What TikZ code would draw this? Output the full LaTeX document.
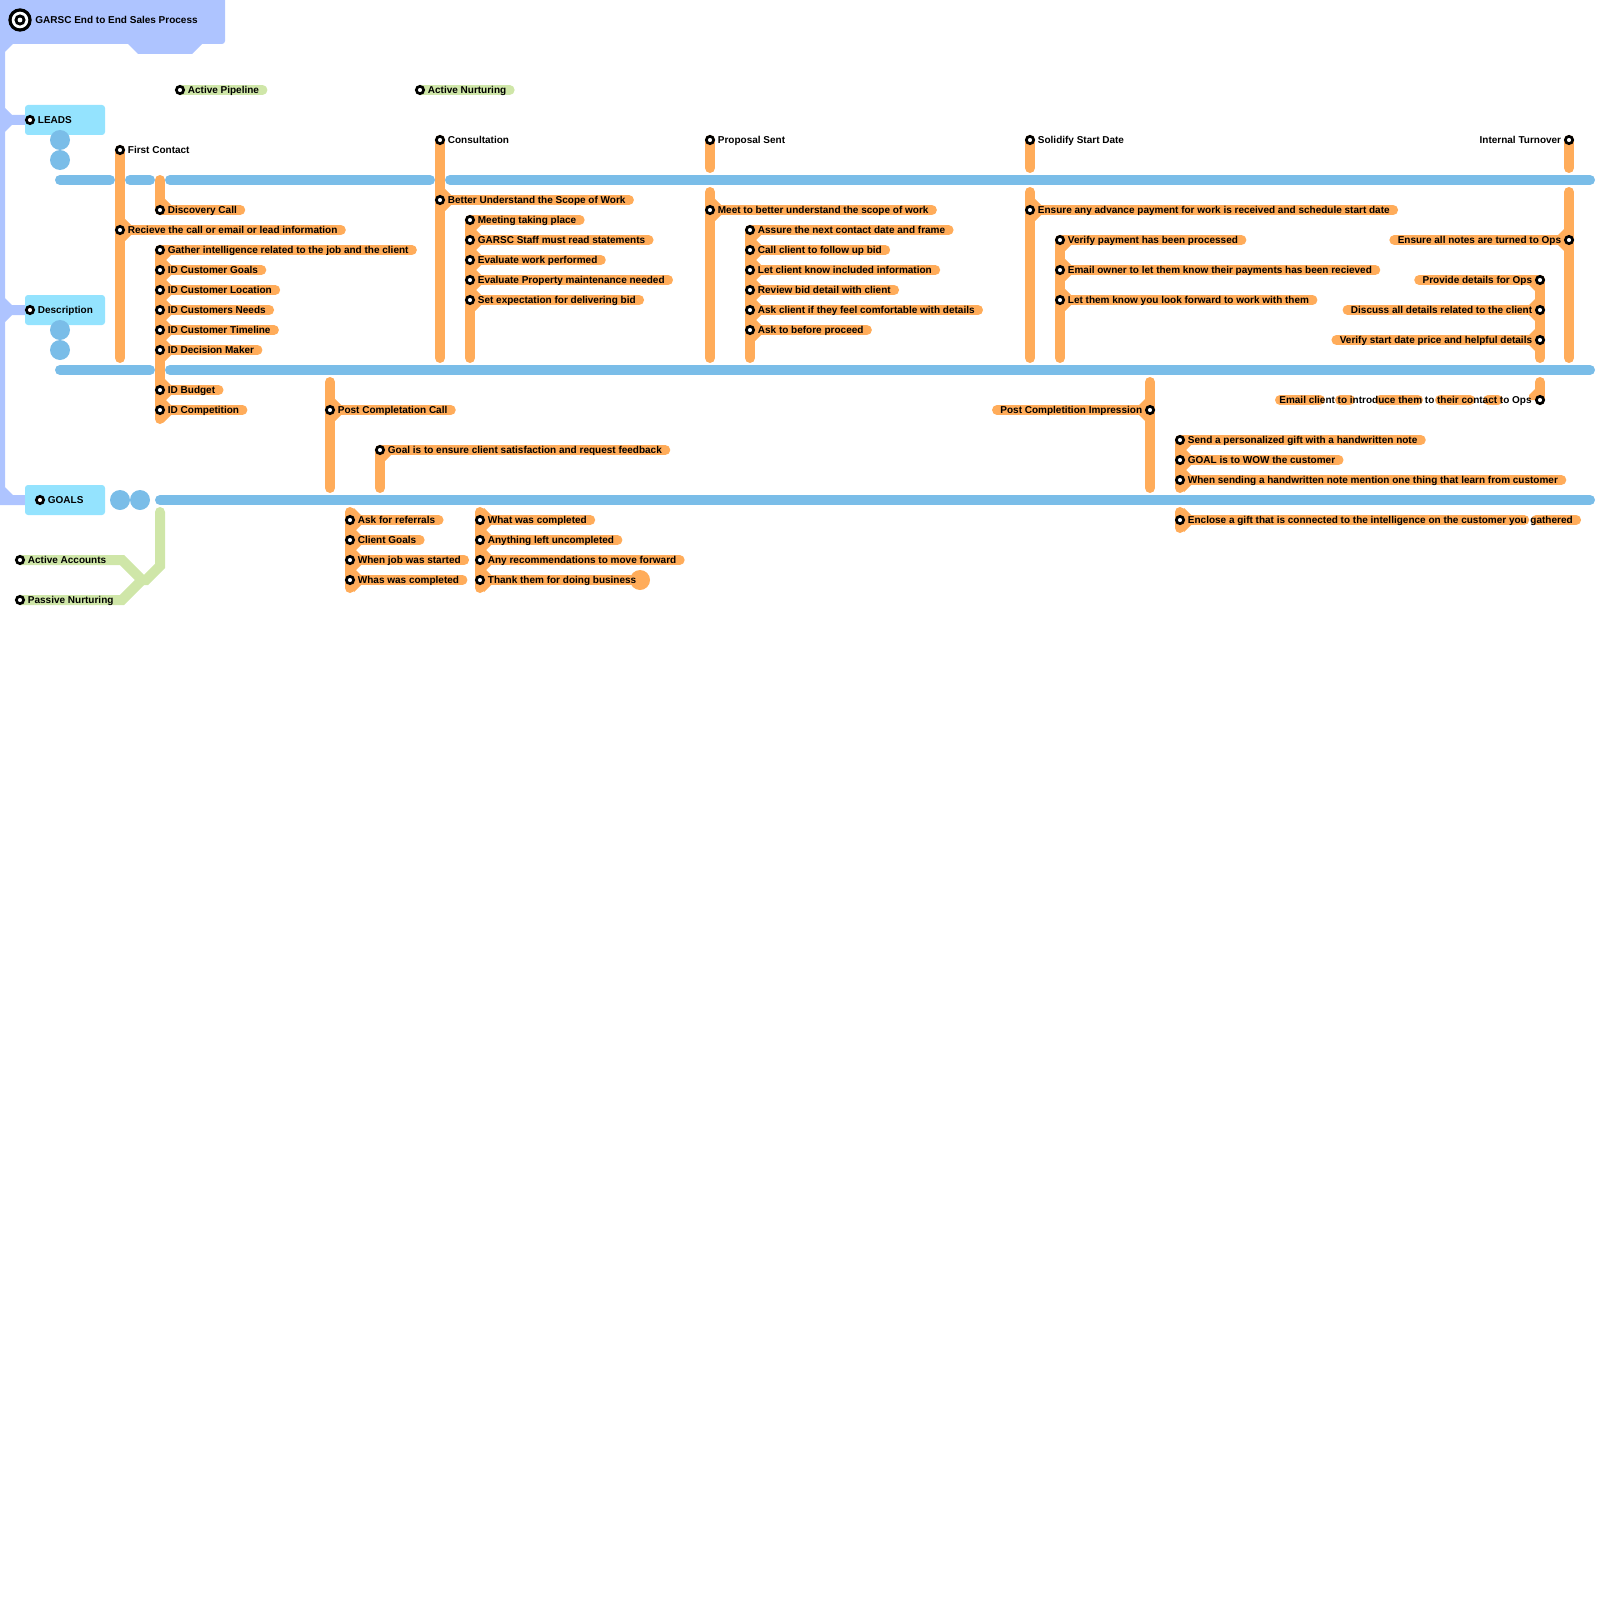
\documentclass[tikz,border=0pt]{standalone}
\usepackage{fontspec}
\setmainfont{Liberation Sans}
\usetikzlibrary{calc}
\definecolor{lav}{HTML}{AEC4FF}
\definecolor{cyanbox}{HTML}{94E3FE}
\definecolor{bl}{HTML}{7ABDE8}
\definecolor{orc}{HTML}{FFAC5A}
\definecolor{grn}{HTML}{CFE6A8}
\pgfdeclarelayer{lines}
\pgfdeclarelayer{pills}
\pgfsetlayers{lines,pills,main}
\tikzset{
 blueline/.style={bl, line width=5pt, line cap=round},
 oline/.style={orc, line width=5pt, line cap=round},
 gline/.style={grn, line width=5pt, line cap=round},
 pill/.style={orc, line width=5pt, line cap=round},
 gpill/.style={grn, line width=5pt, line cap=round},
 stn/.style={circle, draw=black, fill=white, line width=1.35pt, minimum size=3.65pt, inner sep=0pt},
 lbl/.style={font=\fontsize{5}{6}\selectfont\bfseries, inner sep=0pt, text=black},
 cbox/.style={fill=cyanbox, rounded corners=1.5pt, minimum width=40pt, minimum height=15pt, inner sep=0pt},
 bdot/.style={circle, fill=bl, minimum size=10pt, inner sep=0pt},
 odot/.style={circle, fill=orc, minimum size=10pt, inner sep=0pt},
}
% fillet: x y sx sy
\newcommand{\orfil}[4]{\fill[orc] ({#1+(#3)*4},{#2+(#4)*12}) -- ({#1+(#3)*11},{#2+(#4)*5}) -- ({#1+(#3)*11},{#2}) -- ({#1+(#3)*4},{#2}) -- cycle;}
% station, label right, orange pill
\newcommand{\myR}[6]{%
  \node[stn] (#1) at (#2,#3) {};
  \node[lbl, anchor=base west] (#1l) at (#2+7.5,#3+3.5) {#4};
  \begin{pgfonlayer}{pills}
    \draw[pill] (#1.center) -- ($(#1l.east |- #1.center)+(3,0)$);
    \ifnum#5=1 \orfil{#2}{#3}{1}{-1}\fi
    \ifnum#6=1 \orfil{#2}{#3}{1}{1}\fi
  \end{pgfonlayer}}
% station, label left, orange pill
\newcommand{\myL}[6]{%
  \node[stn] (#1) at (#2,#3) {};
  \node[lbl, anchor=base east] (#1l) at (#2-7.5,#3+3.5) {#4};
  \begin{pgfonlayer}{pills}
    \draw[pill] ($(#1l.west |- #1.center)+(-3,0)$) -- (#1.center);
    \ifnum#5=1 \orfil{#2}{#3}{-1}{-1}\fi
    \ifnum#6=1 \orfil{#2}{#3}{-1}{1}\fi
  \end{pgfonlayer}}
% station, label right, no pill
\newcommand{\myN}[4]{%
  \node[stn] (#1) at (#2,#3) {};
  \node[lbl, anchor=base west] (#1l) at (#2+7.5,#3+3.5) {#4};}
% station, label left, no pill
\newcommand{\myNL}[4]{%
  \node[stn] (#1) at (#2,#3) {};
  \node[lbl, anchor=base east] (#1l) at (#2-7.5,#3+3.5) {#4};}
% station, label right, green pill
\newcommand{\myG}[4]{%
  \node[stn] (#1) at (#2,#3) {};
  \node[lbl, anchor=base west] (#1l) at (#2+7.5,#3+3.5) {#4};
  \begin{pgfonlayer}{pills}
    \draw[gpill] (#1.center) -- ($(#1l.east |- #1.center)+(3,0)$);
  \end{pgfonlayer}}

\begin{document}
\begin{tikzpicture}[x=0.5pt,y=-0.5pt]
\useasboundingbox (0,0) rectangle (1600,1600);

\begin{pgfonlayer}{lines}
% lavender title box and trunk
\fill[lav] (0,0) -- (225,0) [rounded corners=1.5pt] -- (225,44) [sharp corners] -- (202,44) -- (192,54) -- (138,54) -- (128,44)
  -- (13,44) -- (5,52) -- (5,108) -- (12,115) -- (27,115) -- (27,125) -- (12,125) -- (5,132)
  -- (5,298) -- (12,305) -- (27,305) -- (27,315) -- (12,315) -- (5,322)
  -- (5,487) -- (13,495) -- (27,495) -- (27,505) -- (0,505) -- cycle;
% blue lines
\draw[blueline] (60,180) -- (110,180);
\draw[blueline] (130,180) -- (150,180);
\draw[blueline] (170,180) -- (430,180);
\draw[blueline] (450,180) -- (1590,180);
\draw[blueline] (60,370) -- (150,370);
\draw[blueline] (170,370) -- (1590,370);
\draw[blueline] (160,500) -- (1590,500);
% orange lines
\draw[oline] (120,150) -- (120,358);
\draw[oline] (160,180) -- (160,210);
\draw[oline] (160,250) -- (160,419);
\draw[oline] (440,140) -- (440,358);
\draw[oline] (470,220) -- (470,358);
\draw[oline] (710,140) -- (710,168);
\draw[oline] (710,192) -- (710,358);
\draw[oline] (750,230) -- (750,358);
\draw[oline] (1030,140) -- (1030,168);
\draw[oline] (1030,192) -- (1030,358);
\draw[oline] (1060,240) -- (1060,358);
\draw[oline] (1569,140) -- (1569,168);
\draw[oline] (1569,192) -- (1569,358);
\draw[oline] (1540,280) -- (1540,358);
\draw[oline] (1540,382) -- (1540,400);
\draw[oline] (330,382) -- (330,488);
\draw[oline] (380,450) -- (380,488);
\draw[oline] (350,512) -- (350,588);
\draw[oline] (480,512) -- (480,588);
\draw[oline] (1150,382) -- (1150,488);
\draw[oline] (1180,440) -- (1180,488);
\draw[oline] (1180,512) -- (1180,528);
% green lines
\draw[gline] (160,512) -- (160,566) -- (146,580) -- (142,580);
\draw[gline] (20,560) -- (122,560) -- (142,580);
\draw[gline] (20,600) -- (122,600) -- (142,580);
\end{pgfonlayer}

% title
\node[circle, fill=black, minimum size=11.7pt, inner sep=0pt] (t1) at (20,20) {};
\node[circle, fill=white, minimum size=8.3pt, inner sep=0pt] (t2) at (20,20) {};
\node[circle, fill=black, minimum size=5.6pt, inner sep=0pt] (t3) at (20,20) {};
\node[circle, fill=white, minimum size=2.4pt, inner sep=0pt] (t4) at (20,20) {};
\node[lbl, anchor=base west] (title) at (35,23.5) {GARSC End to End Sales Process};

% boxes
\node[cbox] (leadsbox) at (65,120) {};
\node[cbox] (descbox) at (65,310) {};
\node[cbox] (goalsbox) at (65,500) {};
\node[bdot] (b1) at (60,140) {};
\node[bdot] (b2) at (60,160) {};
\node[bdot] (b3) at (60,330) {};
\node[bdot] (b4) at (60,350) {};
\node[bdot] (b5) at (120,500) {};
\node[bdot] (b6) at (140,500) {};

\myN{leads}{30}{120}{LEADS}
\myN{desc}{30}{310}{Description}
\myN{goals}{40}{500}{GOALS}
\myG{ap}{180}{90}{Active Pipeline}
\myG{an}{420}{90}{Active Nurturing}
\myN{aa}{20}{560}{Active Accounts}
\myN{pn}{20}{600}{Passive Nurturing}
\myN{fc}{120}{150}{First Contact}
\myN{cons}{440}{140}{Consultation}
\myN{prop}{710}{140}{Proposal Sent}
\myN{solid}{1030}{140}{Solidify Start Date}
\myNL{intt}{1569}{140}{Internal Turnover}

\myR{disc}{160}{210}{Discovery Call}{1}{0}
\myR{recv}{120}{230}{Recieve the call or email or lead information}{1}{1}
\myR{gath}{160}{250}{Gather intelligence related to the job and the client}{0}{1}
\myR{idg}{160}{270}{ID Customer Goals}{1}{1}
\myR{idl}{160}{290}{ID Customer Location}{1}{1}
\myR{idn}{160}{310}{ID Customers Needs}{1}{1}
\myR{idt}{160}{330}{ID Customer Timeline}{1}{1}
\myR{idd}{160}{350}{ID Decision Maker}{1}{1}
\myR{idb}{160}{390}{ID Budget}{1}{1}
\myR{idc}{160}{410}{ID Competition}{1}{1}

\myR{bus}{440}{200}{Better Understand the Scope of Work}{1}{1}
\myR{mtp}{470}{220}{Meeting taking place}{0}{1}
\myR{gss}{470}{240}{GARSC Staff must read statements}{1}{1}
\myR{ewp}{470}{260}{Evaluate work performed}{1}{1}
\myR{epm}{470}{280}{Evaluate Property maintenance needed}{1}{1}
\myR{sed}{470}{300}{Set expectation for delivering bid}{1}{1}

\myR{mtb}{710}{210}{Meet to better understand the scope of work}{1}{1}
\myR{anc}{750}{230}{Assure the next contact date and frame}{0}{1}
\myR{ccf}{750}{250}{Call client to follow up bid}{1}{1}
\myR{lck}{750}{270}{Let client know included information}{1}{1}
\myR{rbd}{750}{290}{Review bid detail with client}{1}{1}
\myR{acf}{750}{310}{Ask client if they feel comfortable with details}{1}{1}
\myR{atb}{750}{330}{Ask to before proceed}{1}{1}

\myR{eap}{1030}{210}{Ensure any advance payment for work is received and schedule start date}{1}{1}
\myR{vpp}{1060}{240}{Verify payment has been processed}{0}{1}
\myR{eol}{1060}{270}{Email owner to let them know their payments has been recieved}{1}{1}
\myR{ltk}{1060}{300}{Let them know you look forward to work with them}{1}{1}

\myL{ean}{1569}{240}{Ensure all notes are turned to Ops}{1}{1}
\myL{pdo}{1540}{280}{Provide details for Ops}{0}{1}
\myL{dad}{1540}{310}{Discuss all details related to the client}{1}{1}
\myL{vsd}{1540}{340}{Verify start date price and helpful details}{1}{1}

% Email client (broken pill)
\node[stn] (ecl) at (1540,400) {};
\node[lbl, anchor=base east] (ecll) at (1532,403.5) {Email client to introduce them to their contact to Ops};
\begin{pgfonlayer}{pills}
\draw[pill] (1280,400) -- (1320,400);
\draw[pill] (1340,400) -- (1350,400);
\draw[pill] (1380,400) -- (1418,400);
\draw[pill] (1440,400) -- (1470,400);
\draw[pill] (1488,400) -- (1498,400);
\orfil{1540}{400}{-1}{-1}
\end{pgfonlayer}

\myR{pcc}{330}{410}{Post Completation Call}{1}{1}
\myR{gie}{380}{450}{Goal is to ensure client satisfaction and request feedback}{0}{1}
\myR{afr}{350}{520}{Ask for referrals}{1}{1}
\myR{cg}{350}{540}{Client Goals}{1}{1}
\myR{wjs}{350}{560}{When job was started}{1}{1}
\myR{wwc}{350}{580}{Whas was completed}{1}{1}
\myR{wac}{480}{520}{What was completed}{1}{1}
\myR{alu}{480}{540}{Anything left uncompleted}{1}{1}
\myR{arm}{480}{560}{Any recommendations to move forward}{1}{1}
\myR{ttb}{480}{580}{Thank them for doing business}{1}{1}
\begin{pgfonlayer}{pills}
\node[odot] (ttbc) at (640,580) {};
\end{pgfonlayer}

\myL{pci}{1150}{410}{Post Completition Impression}{1}{1}
\myR{spg}{1180}{440}{Send a personalized gift with a handwritten note}{0}{1}
\myR{gwc}{1180}{460}{GOAL is to WOW the customer}{1}{1}
\myR{wsh}{1180}{480}{When sending a handwritten note mention one thing that learn from customer}{1}{1}

% Enclose (split pill)
\node[stn] (enc) at (1180,520) {};
\node[lbl, anchor=base west] (encl) at (1187.5,523.5) {Enclose a gift that is connected to the intelligence on the customer you};
\node[lbl, anchor=base west] (enc2) at ($(encl.base east)+(2.8,0)$) {gathered};
\begin{pgfonlayer}{pills}
\draw[pill] (enc.center) -- ($(encl.east |- enc.center)+(-3,0)$);
\draw[pill] ($(enc2.west |- enc.center)+(6,0)$) -- ($(enc2.east |- enc.center)+(3,0)$);
\orfil{1180}{520}{1}{-1}
\orfil{1180}{520}{1}{1}
\end{pgfonlayer}
\end{tikzpicture}
\end{document}
